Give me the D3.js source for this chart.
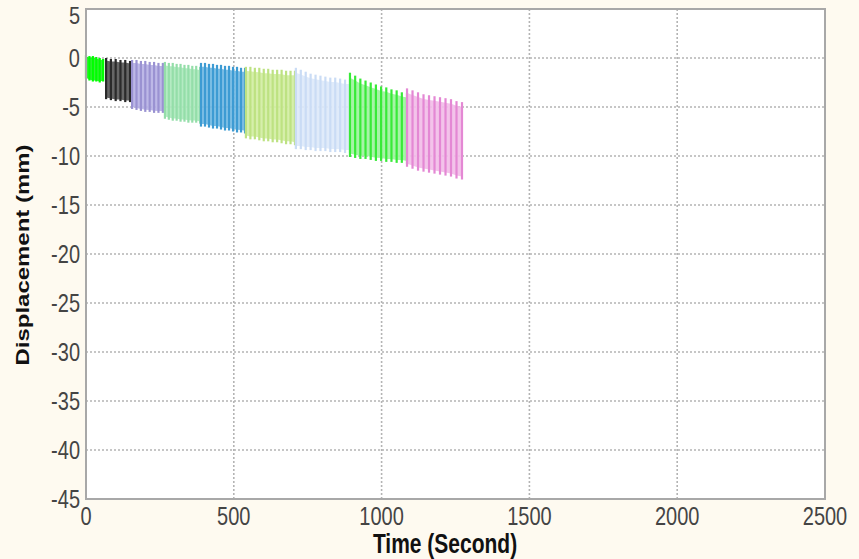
<!DOCTYPE html>
<html><head><meta charset="utf-8">
<script src="https://cdn.jsdelivr.net/npm/d3@7"></script>
<style>body{margin:0;background:#fefaf0;}svg{display:block;}</style>
</head><body>
<svg id="c" width="859" height="559"></svg>
<script>
const xTicks = [0, 500, 1000, 1500, 2000, 2500];
const yTicks = [5, 0, -5, -10, -15, -20, -25, -30, -35, -40, -45];
const xLabel = "Time (Second)";
const yLabel = "Displacement (mm)";

const segStart = [0, 68, 156, 267, 389, 541, 710, 893, 1086];
const segEnd   = [58, 149, 260, 386, 538, 707, 893, 1086, 1272];
const segFill  = ["#20f020", "#555555", "#b6b0e4", "#ace9bd", "#72b9e3", "#d2eda2", "#dde9f9", "#9cf39c", "#f2bce8"];
const segLine  = ["#00ff00", "#2a2a2a", "#9a92d2", "#94dea9", "#3d9bd3", "#bde282", "#cadcf5", "#38ea38", "#e488d4"];
const peaks = [
  [0.3, 0.2, 0.2, 0.1, 0.0, -0.1],
  [0.0, -0.1, -0.1, -0.2, -0.2, -0.3],
  [-0.2, -0.2, -0.3, -0.3, -0.4, -0.4, -0.5, -0.5],
  [-0.4, -0.5, -0.5, -0.6, -0.6, -0.7, -0.7, -0.8, -0.8, -0.9],
  [-0.5, -0.5, -0.6, -0.6, -0.7, -0.7, -0.8, -0.8, -0.9, -0.9, -1.0, -1.0],
  [-0.9, -0.9, -1.0, -1.0, -1.1, -1.1, -1.2, -1.2, -1.2, -1.3, -1.3, -1.3],
  [-1.0, -1.2, -1.4, -1.6, -1.7, -1.8, -1.9, -2.0, -2.0, -2.1, -2.2, -2.2],
  [-1.5, -1.8, -2.1, -2.3, -2.5, -2.7, -2.9, -3.0, -3.2, -3.3, -3.5, -3.6],
  [-3.1, -3.3, -3.5, -3.7, -3.8, -3.9, -4.0, -4.1, -4.2, -4.4, -4.5]
];
const troughs = [
  [-2.1, -2.3, -2.4, -2.4, -2.5, -2.4],
  [-4.2, -4.3, -4.4, -4.4, -4.5, -4.5],
  [-5.2, -5.3, -5.4, -5.5, -5.5, -5.6, -5.6, -5.6],
  [-6.2, -6.3, -6.4, -6.4, -6.5, -6.5, -6.6, -6.6, -6.6, -6.7],
  [-7.0, -7.0, -7.1, -7.2, -7.2, -7.3, -7.4, -7.4, -7.5, -7.6, -7.6, -7.7],
  [-8.2, -8.3, -8.3, -8.4, -8.5, -8.5, -8.6, -8.6, -8.7, -8.8, -8.8, -8.9],
  [-9.3, -9.3, -9.4, -9.4, -9.5, -9.5, -9.5, -9.6, -9.6, -9.6, -9.7, -9.7],
  [-10.1, -10.2, -10.3, -10.3, -10.4, -10.5, -10.5, -10.6, -10.6, -10.7, -10.7, -10.8],
  [-11.1, -11.3, -11.5, -11.6, -11.7, -11.8, -11.9, -12.0, -12.1, -12.3, -12.4]
];

const svg = d3.select("#c");
const L = 86, R = 825, T = 9, B = 499;
const x = d3.scaleLinear().domain([0, 2500]).range([L, R]);
const y = d3.scaleLinear().domain([-45, 5]).range([B, T]);

svg.append("rect").attr("x", 0).attr("y", 0).attr("width", 859).attr("height", 559).attr("fill", "#fefaf0");
svg.append("rect").attr("x", L).attr("y", T).attr("width", R - L).attr("height", B - T).attr("fill", "#fff");

// grid
svg.append("g").selectAll("line").data(yTicks.slice(1, -1)).join("line")
  .attr("x1", L).attr("x2", R).attr("y1", d => y(d)).attr("y2", d => y(d))
  .attr("stroke", "#b4b4b4").attr("stroke-width", 1.6).attr("stroke-dasharray", "2,2");
svg.append("g").selectAll("line").data(xTicks.slice(1, -1)).join("line")
  .attr("y1", T).attr("y2", B).attr("x1", d => x(d)).attr("x2", d => x(d))
  .attr("stroke", "#b4b4b4").attr("stroke-width", 1.6).attr("stroke-dasharray", "2,2");

// data segments
const plot = svg.append("g");
segStart.forEach((s, k) => {
  const n = peaks[k].length;
  const pts = peaks[k].map((p, i) => ({t: s + (segEnd[k] - s) * i / (n - 1), hi: p, lo: troughs[k][i]}));
  const area = d3.area().x(d => x(d.t)).y0(d => y(d.lo + (d.hi - d.lo) * 0.04)).y1(d => y(d.hi - (d.hi - d.lo) * 0.06));
  plot.append("path").datum(pts).attr("d", area).attr("fill", segFill[k]).attr("fill-opacity", 0.9);
  plot.append("g").selectAll("line").data(pts).join("line")
    .attr("x1", d => x(d.t)).attr("x2", d => x(d.t))
    .attr("y1", d => y(d.hi)).attr("y2", d => y(d.lo))
    .attr("stroke", segLine[k]).attr("stroke-width", 2.2);
});

// frame
svg.append("rect").attr("x", L).attr("y", T).attr("width", R - L).attr("height", B - T)
  .attr("fill", "none").attr("stroke", "#a8a8a8").attr("stroke-width", 2);

// ticks
const tf = "'Liberation Sans', Arial, sans-serif";
svg.append("g").selectAll("text").data(yTicks).join("text")
  .attr("transform", d => `translate(${L - 6},${y(d) + (d === 5 ? 6 : 0)}) scale(1,${d === 5 ? 1.2 : 1.3})`)
  .attr("text-anchor", "end").attr("dy", "0.36em")
  .attr("font-family", tf).attr("font-size", 20).attr("fill", "#444")
  .text(d => d);
svg.append("g").selectAll("text").data(xTicks).join("text")
  .attr("transform", d => `translate(${x(d)},${B + 6}) scale(1,1.3)`)
  .attr("text-anchor", "middle").attr("dy", "0.75em")
  .attr("font-family", tf).attr("font-size", 20).attr("fill", "#444")
  .text(d => d);

svg.append("text").attr("transform", `translate(445,${B + 44}) scale(1,1.3)`)
  .attr("text-anchor", "middle").attr("dy", "0.36em")
  .attr("font-family", tf).attr("font-size", 21).attr("font-weight", "bold").attr("fill", "#111")
  .text(xLabel);
svg.append("text").attr("transform", `translate(23,255) rotate(-90) scale(1.37,1)`)
  .attr("text-anchor", "middle").attr("dy", "0.36em")
  .attr("font-family", tf).attr("font-size", 17.5).attr("font-weight", "bold").attr("fill", "#111")
  .text(yLabel);
</script>
</body></html>
